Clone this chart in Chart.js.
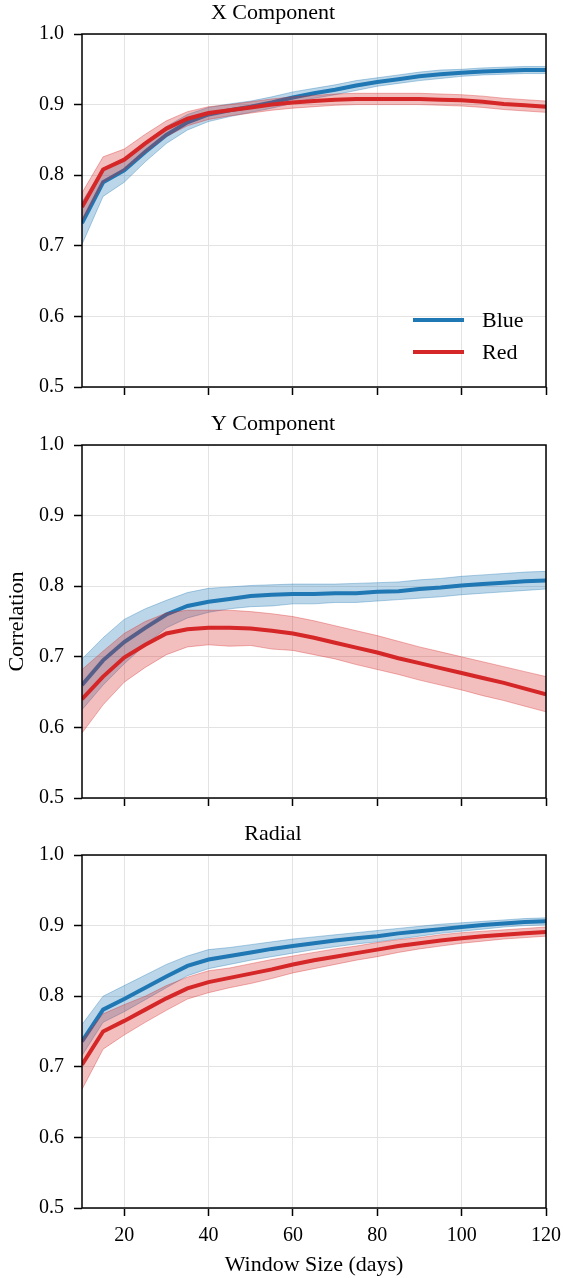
<!DOCTYPE html>
<html lang="en">
<head>
<meta charset="UTF-8">
<title>Correlation vs Window Size</title>
<script src="https://cdn.jsdelivr.net/npm/chart.js"></script>
<style>
    body { margin: 0; background: #fff; width: 564px; height: 1278px; position: relative; overflow: hidden; }
    .painel { position: absolute; left: 0; width: 564px; }
    .legenda { position: absolute; left: 413px; font-family: 'Liberation Serif', 'Times New Roman', serif; font-size: 22px; color: #000; }
    .legenda .item { position: absolute; left: 0; height: 32px; white-space: nowrap; }
    .legenda .traco { position: absolute; left: 0; width: 51px; height: 4px; }
    .legenda .texto { position: absolute; left: 69px; line-height: 24px; }
</style>
</head>
<body>

<div class="painel" style="top:0; height:409px;"><canvas id="graficoX"></canvas></div>
<div class="painel" style="top:411px; height:409px;"><canvas id="graficoY"></canvas></div>
<div class="painel" style="top:821px; height:457px;"><canvas id="graficoR"></canvas></div>

<div class="legenda" style="top:308px;">
    <div class="item" style="top:0;"><div class="traco" style="top:10px; background:#1f77b4;"></div><span class="texto">Blue</span></div>
    <div class="item" style="top:32px;"><div class="traco" style="top:10px; background:#d62728;"></div><span class="texto">Red</span></div>
</div>

<script>
    // janelas (dias)
    const janelas = [10, 15, 20, 25, 30, 35, 40, 45, 50, 55, 60, 65, 70, 75, 80, 85, 90, 95, 100, 105, 110, 115, 120];
    const ticksX = [20, 40, 60, 80, 100, 120];

    // X Component
    const xAzul = [0.732, 0.790, 0.807, 0.833, 0.857, 0.875, 0.886, 0.892, 0.897, 0.903, 0.910, 0.916, 0.921, 0.927, 0.932, 0.936, 0.940, 0.943, 0.945, 0.947, 0.948, 0.949, 0.949];
    const xAzulMin = [0.702, 0.770, 0.790, 0.819, 0.845, 0.864, 0.876, 0.883, 0.889, 0.895, 0.902, 0.909, 0.914, 0.920, 0.926, 0.930, 0.934, 0.937, 0.940, 0.942, 0.943, 0.944, 0.944];
    const xAzulMax = [0.762, 0.810, 0.824, 0.847, 0.869, 0.886, 0.896, 0.901, 0.905, 0.911, 0.918, 0.923, 0.928, 0.934, 0.938, 0.942, 0.946, 0.949, 0.950, 0.952, 0.953, 0.954, 0.954];
    const xVermelho = [0.755, 0.808, 0.822, 0.845, 0.866, 0.880, 0.888, 0.892, 0.896, 0.900, 0.903, 0.905, 0.907, 0.908, 0.908, 0.908, 0.908, 0.907, 0.906, 0.904, 0.901, 0.899, 0.897];
    const xVermelhoMin = [0.735, 0.790, 0.807, 0.832, 0.855, 0.870, 0.879, 0.884, 0.888, 0.892, 0.895, 0.897, 0.899, 0.900, 0.900, 0.900, 0.900, 0.899, 0.898, 0.896, 0.893, 0.891, 0.889];
    const xVermelhoMax = [0.775, 0.826, 0.837, 0.858, 0.877, 0.890, 0.897, 0.900, 0.904, 0.908, 0.911, 0.913, 0.915, 0.916, 0.916, 0.916, 0.916, 0.915, 0.914, 0.912, 0.909, 0.907, 0.905];

    // Y Component
    const yAzul = [0.660, 0.695, 0.721, 0.741, 0.760, 0.772, 0.778, 0.782, 0.786, 0.788, 0.789, 0.789, 0.790, 0.790, 0.792, 0.793, 0.796, 0.798, 0.801, 0.803, 0.805, 0.807, 0.808];
    const yAzulMin = [0.625, 0.660, 0.690, 0.717, 0.741, 0.755, 0.763, 0.768, 0.771, 0.772, 0.775, 0.775, 0.777, 0.777, 0.779, 0.781, 0.783, 0.785, 0.788, 0.790, 0.792, 0.794, 0.796];
    const yAzulMax = [0.697, 0.727, 0.753, 0.768, 0.780, 0.791, 0.797, 0.799, 0.801, 0.802, 0.803, 0.803, 0.803, 0.804, 0.805, 0.806, 0.809, 0.811, 0.814, 0.816, 0.818, 0.820, 0.821];
    const yVermelho = [0.640, 0.672, 0.699, 0.717, 0.733, 0.739, 0.741, 0.741, 0.740, 0.737, 0.733, 0.727, 0.720, 0.713, 0.706, 0.698, 0.691, 0.684, 0.677, 0.670, 0.663, 0.655, 0.647];
    const yVermelhoMin = [0.592, 0.632, 0.664, 0.685, 0.703, 0.714, 0.717, 0.715, 0.716, 0.711, 0.709, 0.703, 0.697, 0.689, 0.682, 0.675, 0.667, 0.660, 0.653, 0.645, 0.638, 0.630, 0.622];
    const yVermelhoMax = [0.682, 0.708, 0.733, 0.750, 0.762, 0.766, 0.766, 0.766, 0.764, 0.761, 0.757, 0.751, 0.744, 0.737, 0.730, 0.722, 0.714, 0.707, 0.700, 0.693, 0.686, 0.679, 0.672];

    // Radial
    const rAzul = [0.736, 0.781, 0.796, 0.812, 0.828, 0.843, 0.852, 0.857, 0.862, 0.867, 0.871, 0.875, 0.879, 0.882, 0.885, 0.889, 0.892, 0.895, 0.898, 0.901, 0.903, 0.905, 0.906];
    const rAzulMin = [0.716, 0.763, 0.778, 0.795, 0.812, 0.829, 0.839, 0.845, 0.851, 0.856, 0.861, 0.866, 0.870, 0.874, 0.877, 0.881, 0.885, 0.889, 0.892, 0.895, 0.898, 0.900, 0.901];
    const rAzulMax = [0.760, 0.800, 0.815, 0.830, 0.845, 0.857, 0.866, 0.869, 0.873, 0.877, 0.881, 0.884, 0.887, 0.890, 0.893, 0.896, 0.899, 0.902, 0.904, 0.906, 0.908, 0.910, 0.911];
    const rVermelho = [0.703, 0.750, 0.765, 0.781, 0.797, 0.811, 0.820, 0.826, 0.832, 0.838, 0.845, 0.851, 0.856, 0.861, 0.866, 0.871, 0.875, 0.879, 0.882, 0.885, 0.887, 0.889, 0.891];
    const rVermelhoMin = [0.668, 0.725, 0.745, 0.763, 0.780, 0.796, 0.805, 0.812, 0.818, 0.825, 0.833, 0.839, 0.845, 0.851, 0.856, 0.862, 0.867, 0.871, 0.875, 0.878, 0.881, 0.883, 0.885];
    const rVermelhoMax = [0.737, 0.775, 0.788, 0.800, 0.815, 0.827, 0.836, 0.840, 0.846, 0.852, 0.857, 0.862, 0.867, 0.871, 0.876, 0.880, 0.883, 0.887, 0.890, 0.892, 0.894, 0.896, 0.898];

    const fonte = "'Liberation Serif', 'Times New Roman', serif";

    // moldura preta em volta da area do grafico (spines)
    const moldura = {
        id: 'moldura',
        afterDraw(chart) {
            const a = chart.chartArea;
            const ctx = chart.ctx;
            ctx.save();
            ctx.strokeStyle = '#000';
            ctx.lineWidth = 1.5;
            ctx.strokeRect(a.left, a.top, a.right - a.left, a.bottom - a.top);
            ctx.restore();
        }
    };

    function pontos(valores) {
        return janelas.map((x, i) => ({ x: x, y: valores[i] }));
    }

    function linha(valores, cor) {
        return { data: pontos(valores), borderColor: cor, borderWidth: 4, pointRadius: 0, fill: false, tension: 0 };
    }

    function faixa(valores, borda, preenchimento, fill) {
        return { data: pontos(valores), borderColor: borda, backgroundColor: preenchimento, borderWidth: 1, pointRadius: 0, fill: fill, tension: 0 };
    }

    function criarGrafico(id, titulo, series, ultimo, rotuloY) {
        const [azul, azulMin, azulMax, verm, vermMin, vermMax] = series;
        const ctx = document.getElementById(id).getContext('2d');
        new Chart(ctx, {
            type: 'line',
            data: {
                // indice 0 fica por cima
                datasets: [
                    linha(verm, '#d62728'),
                    faixa(vermMax, 'rgba(214,39,40,0.35)', 'rgba(214,39,40,0.3)', '+1'),
                    faixa(vermMin, 'rgba(214,39,40,0.35)', 'rgba(214,39,40,0.3)', false),
                    linha(azul, '#1f77b4'),
                    faixa(azulMax, 'rgba(31,119,180,0.35)', 'rgba(31,119,180,0.3)', '+1'),
                    faixa(azulMin, 'rgba(31,119,180,0.35)', 'rgba(31,119,180,0.3)', false)
                ]
            },
            options: {
                responsive: true,
                maintainAspectRatio: false,
                animation: false,
                layout: { padding: { left: 0, right: 18, top: 0, bottom: 0 } },
                plugins: {
                    legend: { display: false },
                    tooltip: { enabled: false },
                    title: {
                        display: true,
                        text: titulo,
                        color: '#000',
                        font: { family: fonte, size: 22, weight: 'normal' },
                        padding: { top: 0, bottom: 7.6 }
                    }
                },
                scales: {
                    x: {
                        type: 'linear',
                        min: 10,
                        max: 120,
                        afterBuildTicks: s => { s.ticks = ticksX.map(v => ({ value: v })); },
                        afterFit: s => {
                            s.height = ultimo ? 70 : 22;
                            s.paddingLeft = 0;
                            s.paddingRight = 0;
                        },
                        grid: { color: '#e3e3e3', lineWidth: 1, tickColor: '#000', tickWidth: 1.5, tickLength: 8 },
                        border: { display: false },
                        ticks: {
                            color: '#000',
                            padding: 8,
                            maxRotation: 0,
                            font: { family: fonte, size: 20 },
                            callback: v => ultimo ? String(v) : ''
                        },
                        title: {
                            display: ultimo,
                            text: 'Window Size (days)',
                            color: '#000',
                            font: { family: fonte, size: 22 },
                            padding: { top: 0, bottom: 0 }
                        }
                    },
                    y: {
                        min: 0.5,
                        max: 1.0,
                        afterFit: s => {
                            s.width = 82;
                            s.paddingTop = 0;
                            s.paddingBottom = 0;
                        },
                        grid: { color: '#e3e3e3', lineWidth: 1, tickColor: '#000', tickWidth: 1.5, tickLength: 8 },
                        border: { display: false },
                        ticks: {
                            stepSize: 0.1,
                            color: '#000',
                            padding: 10,
                            font: { family: fonte, size: 20 },
                            callback: v => v.toFixed(1)
                        },
                        title: {
                            display: !!rotuloY,
                            text: rotuloY || '',
                            color: '#000',
                            font: { family: fonte, size: 22 },
                            padding: { top: 4, bottom: 0 }
                        }
                    }
                }
            },
            plugins: [moldura]
        });
    }

    criarGrafico('graficoX', 'X Component', [xAzul, xAzulMin, xAzulMax, xVermelho, xVermelhoMin, xVermelhoMax], false, null);
    criarGrafico('graficoY', 'Y Component', [yAzul, yAzulMin, yAzulMax, yVermelho, yVermelhoMin, yVermelhoMax], false, 'Correlation');
    criarGrafico('graficoR', 'Radial', [rAzul, rAzulMin, rAzulMax, rVermelho, rVermelhoMin, rVermelhoMax], true, null);
</script>
</body>
</html>
